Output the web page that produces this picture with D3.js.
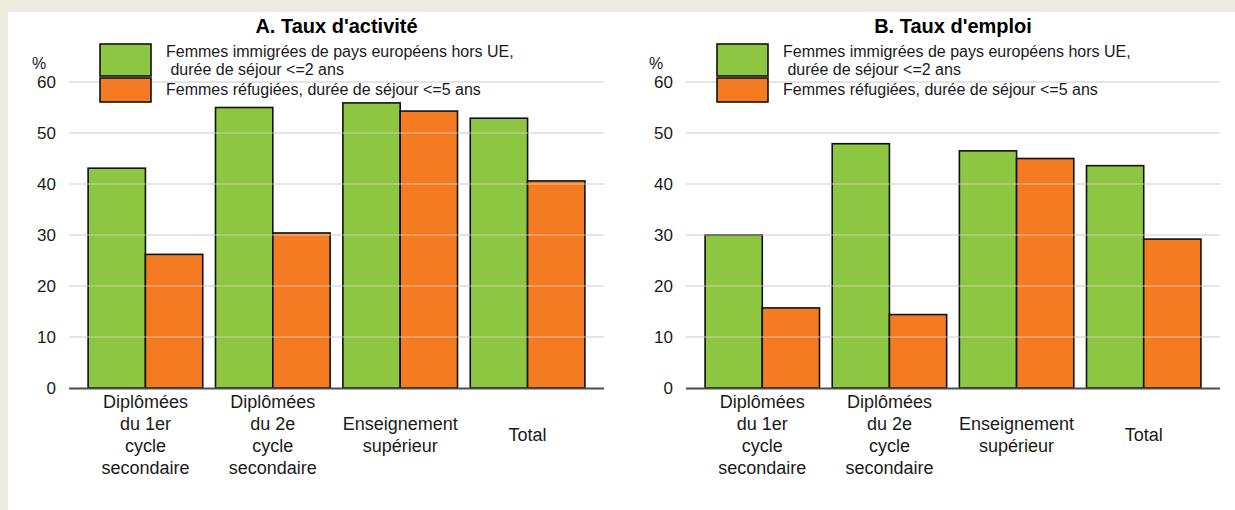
<!DOCTYPE html>
<html>
<head>
<meta charset="utf-8">
<script src="https://cdn.jsdelivr.net/npm/d3@7"></script>
<style>
  body { margin: 0; background: #edeae0; }
  svg { display: block; font-family: "Liberation Sans", Arial, sans-serif; }
</style>
</head>
<body>
<svg id="chart"></svg>
<script>
// categories (multi-line labels)
const categories = [
    ["Diplômées", "du 1er", "cycle", "secondaire"],
    ["Diplômées", "du 2e", "cycle", "secondaire"],
    ["Enseignement", "supérieur"],
    ["Total"]
];
const seriesNames = [
    ["Femmes immigrées de pays européens hors UE,", " durée de séjour <=2 ans"],
    ["Femmes réfugiées, durée de séjour <=5 ans"]
];
const seriesColors = ["#8dc641", "#f47b22"];

// panel A : taux d'activité
const activiteImmigrees = [43.1, 55.0, 55.9, 52.9];
const activiteRefugiees = [26.2, 30.4, 54.3, 40.6];
// panel B : taux d'emploi
const emploiImmigrees = [30.0, 47.9, 46.5, 43.6];
const emploiRefugiees = [15.7, 14.4, 45.0, 29.2];

const yTicks = [0, 10, 20, 30, 40, 50, 60];

const width = 1235, height = 510;

const svg = d3.select("#chart")
    .attr("width", width)
    .attr("height", height);

// white panel
svg.append("rect")
    .attr("x", 8).attr("y", 12)
    .attr("width", width - 8).attr("height", height - 12)
    .attr("fill", "#ffffff");

const y = d3.scaleLinear()
    .domain([0, 60])
    .range([388, 82]);

const drawPanel = (title, left, right, series) => {
    const g = svg.append("g");

    const x = d3.scaleBand()
        .domain(d3.range(categories.length))
        .range([left, right])
        .paddingInner(0.1)
        .paddingOuter(0.15);

    const xs = d3.scaleBand()
        .domain(d3.range(series.length))
        .range([0, x.bandwidth()]);

    // gridlines
    g.selectAll(".grid")
        .data(yTicks.filter(d => d > 0))
        .enter().append("line")
        .attr("x1", left).attr("x2", right)
        .attr("y1", d => y(d)).attr("y2", d => y(d))
        .attr("stroke", "#d9d9d9")
        .attr("stroke-width", 1);

    // y tick labels
    g.selectAll(".ytick")
        .data(yTicks)
        .enter().append("text")
        .attr("x", left - 13)
        .attr("y", d => y(d))
        .attr("dy", "0.36em")
        .attr("text-anchor", "end")
        .attr("font-size", "17px")
        .attr("fill", "#1a1a1a")
        .text(d => d);

    g.append("text")
        .attr("x", left - 37)
        .attr("y", 69)
        .attr("font-size", "16px")
        .attr("fill", "#1a1a1a")
        .text("%");

    // bars
    series.forEach(function (values, si) {
        g.selectAll(".bar" + si)
            .data(values)
            .enter().append("rect")
            .attr("x", (d, i) => x(i) + xs(si))
            .attr("y", d => y(d))
            .attr("width", xs.bandwidth())
            .attr("height", d => y(0) - y(d))
            .attr("fill", seriesColors[si])
            .attr("stroke", "#111")
            .attr("stroke-width", 1.6);
    });

    // gridlines are drawn on top of bars in the original (light)
    g.selectAll(".gridtop")
        .data(yTicks.filter(d => d > 0))
        .enter().append("line")
        .attr("x1", left).attr("x2", right)
        .attr("y1", d => y(d)).attr("y2", d => y(d))
        .attr("stroke", "#d9d9d9")
        .attr("stroke-opacity", 0.75)
        .attr("stroke-width", 1);

    // x axis line
    g.append("line")
        .attr("x1", left).attr("x2", right)
        .attr("y1", y(0) + 0.5).attr("y2", y(0) + 0.5)
        .attr("stroke", "#4d4d4d")
        .attr("stroke-width", 2);

    // category labels
    categories.forEach(function (lines, i) {
        const cx = x(i) + x.bandwidth() / 2;
        const first = 441 - (lines.length - 1) * 11;
        const t = g.append("text")
            .attr("text-anchor", "middle")
            .attr("font-size", "18px")
            .attr("fill", "#1a1a1a");
        lines.forEach(function (l, k) {
            t.append("tspan")
                .attr("x", cx)
                .attr("y", first + k * 22)
                .text(l);
        });
    });

    // title
    g.append("text")
        .attr("x", (left + right) / 2)
        .attr("y", 33)
        .attr("text-anchor", "middle")
        .attr("font-size", "20px")
        .attr("font-weight", "bold")
        .attr("fill", "#000")
        .text(title);

    // legend
    const lx = left + 31;
    const boxes = [{y: 44, h: 32}, {y: 78, h: 24}];
    seriesNames.forEach(function (lines, si) {
        g.append("rect")
            .attr("x", lx).attr("y", boxes[si].y)
            .attr("width", 51).attr("height", boxes[si].h)
            .attr("fill", seriesColors[si])
            .attr("stroke", "#111")
            .attr("stroke-width", 1.6);
        lines.forEach(function (l, k) {
            g.append("text")
                .attr("x", lx + 66)
                .attr("y", si === 0 ? 57 + k * 18 : 95)
                .attr("font-size", "16px")
                .attr("fill", "#1a1a1a")
                .attr("xml:space", "preserve")
                .style("white-space", "pre")
                .text(l);
        });
    });
};

drawPanel("A. Taux d'activité", 69, 604, [activiteImmigrees, activiteRefugiees]);
drawPanel("B. Taux d'emploi", 686, 1220, [emploiImmigrees, emploiRefugiees]);
</script>
</body>
</html>
